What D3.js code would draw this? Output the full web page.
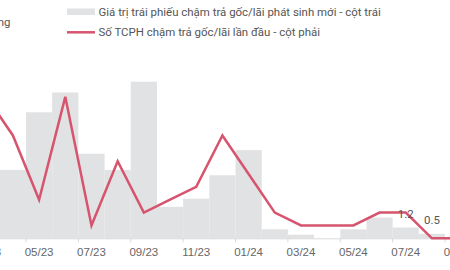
<!DOCTYPE html>
<html>
<head>
<meta charset="utf-8">
<script src="https://cdn.jsdelivr.net/npm/d3@7"></script>
<style>
  body { margin: 0; background: #fff; }
  svg { display: block; font-family: Roboto, "Noto Sans", sans-serif; }
  .axis text { fill: #666; font-size: 11.5px; }
  .axis path, .axis line { stroke: #d9d9d9; }
  .legend text, .unit, .value { fill: #555; font-size: 11.45px; }
</style>
</head>
<body>
<svg width="450" height="270"></svg>
<script>
// data
const months = ["03/23", "04/23", "05/23", "06/23", "07/23", "08/23", "09/23", "10/23", "11/23", "12/23",
  "01/24", "02/24", "03/24", "04/24", "05/24", "06/24", "07/24", "08/24", "09/24"];
// Giá trị trái phiếu chậm trả gốc/lãi phát sinh mới (cột trái)
const amounts = [6.0, 7.6, 14.0, 16.2, 9.4, 7.6, 17.4, 3.5, 4.4, 7.0, 9.8, 1.0, 0.4, 0, 1.0, 2.3, 1.2, 0.5, 0];
// Số TCPH chậm trả gốc/lãi lần đầu (cột phải)
const issuers = [11, 8, 3, 11, 1, 6, 2, 3, 4, 8, 5, 2, 1, 1, 1, 2, 2, 0, 0];
const tickMonths = ["03/23", "05/23", "07/23", "09/23", "11/23", "01/24", "03/24", "05/24", "07/24", "09/24"];
const labelled = ["07/24", "08/24"];

const baseY = 238.3;
const topY = 13.3;
const step = 26.19;
const x0 = 26 - 2 * step;

const svg = d3.select("svg");

const xScale = d3
  .scaleBand()
  .domain(months)
  .range([x0, x0 + months.length * step])
  .padding(0);

const yLeft = d3.scaleLinear().domain([0, 25]).range([baseY, topY]);
const yRight = d3.scaleLinear().domain([0, 17.5]).range([baseY, topY]);

// bars
svg
  .append("g")
  .selectAll("rect")
  .data(months)
  .enter()
  .append("rect")
  .attr("x", (m) => xScale(m))
  .attr("y", (m, i) => yLeft(amounts[i]))
  .attr("width", xScale.bandwidth())
  .attr("height", (m, i) => baseY - yLeft(amounts[i]))
  .attr("fill", "#e1e2e4");

// x axis, ticks at month start, labels centred in month
const xAxis = svg
  .append("g")
  .attr("class", "axis")
  .attr("transform", `translate(0, ${baseY})`)
  .call(d3.axisBottom(xScale).tickValues(tickMonths).tickSizeOuter(0).tickSize(4).tickPadding(6));
xAxis.selectAll(".tick line").attr("x1", -step / 2).attr("x2", -step / 2);

// line
const line = d3
  .line()
  .x((m) => xScale(m) + xScale.bandwidth() / 2)
  .y((m, i) => yRight(issuers[i]));

svg
  .append("path")
  .datum(months)
  .attr("d", line)
  .attr("fill", "none")
  .attr("stroke", "#d6546e")
  .attr("stroke-width", 2.5)
  .attr("stroke-linejoin", "miter");

// value labels
svg
  .append("g")
  .selectAll("text")
  .data(labelled)
  .enter()
  .append("text")
  .attr("class", "value")
  .attr("x", (m) => xScale(m) + xScale.bandwidth() / 2)
  .attr("y", (m) => yLeft(amounts[months.indexOf(m)]) - 9.5)
  .attr("text-anchor", "middle")
  .text((m) => amounts[months.indexOf(m)]);

// left unit (cut off)
svg
  .append("text")
  .attr("class", "unit")
  .attr("x", 10.5)
  .attr("y", 26)
  .attr("text-anchor", "end")
  .text("Tỷ đồng");

// legend
const legend = svg.append("g").attr("class", "legend");
legend.append("rect").attr("x", 67).attr("y", 8.5).attr("width", 28).attr("height", 6.5).attr("fill", "#e1e2e4");
legend
  .append("text")
  .attr("x", 98.5)
  .attr("y", 15.7)
  .text("Giá trị trái phiếu chậm trả gốc/lãi phát sinh mới - cột trái");
legend
  .append("line")
  .attr("x1", 67)
  .attr("x2", 95)
  .attr("y1", 32.3)
  .attr("y2", 32.3)
  .attr("stroke", "#d6546e")
  .attr("stroke-width", 2.5);
legend
  .append("text")
  .attr("x", 98.5)
  .attr("y", 36)
  .text("Số TCPH chậm trả gốc/lãi lần đầu - cột phải");
</script>
</body>
</html>
